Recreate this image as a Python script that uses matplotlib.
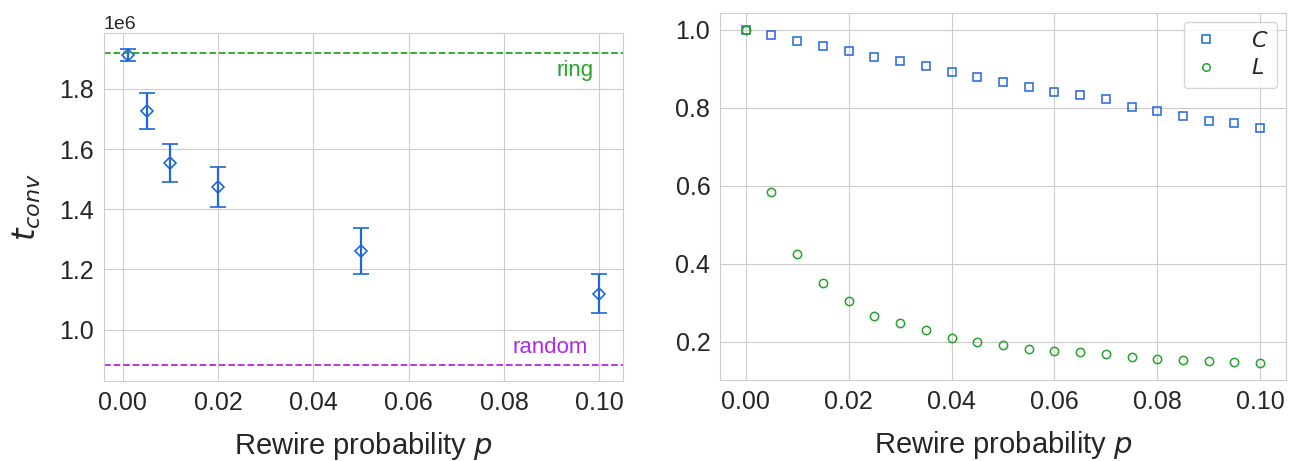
import matplotlib
matplotlib.use("Agg")
import matplotlib.pyplot as plt
import seaborn as sns

# Left panel: convergence time vs rewire probability
p_conv = [0.001, 0.005, 0.01, 0.02, 0.05, 0.1]
t_conv = [1.912e6, 1.727e6, 1.553e6, 1.474e6, 1.262e6, 1.120e6]
t_err = [0.021e6, 0.059e6, 0.063e6, 0.067e6, 0.077e6, 0.065e6]
t_ring = 1.918e6
t_random = 0.882e6

# Right panel: normalised clustering and path length
p_sw = [0.0, 0.005, 0.01, 0.015, 0.02, 0.025, 0.03, 0.035, 0.04, 0.045, 0.05,
        0.055, 0.06, 0.065, 0.07, 0.075, 0.08, 0.085, 0.09, 0.095, 0.1]
clustering = [1.0, 0.986, 0.970, 0.958, 0.946, 0.931, 0.921, 0.908, 0.892,
              0.878, 0.866, 0.853, 0.840, 0.832, 0.823, 0.801, 0.791, 0.778,
              0.766, 0.761, 0.747]
path_length = [1.0, 0.585, 0.424, 0.352, 0.306, 0.266, 0.248, 0.231, 0.211,
               0.199, 0.192, 0.182, 0.177, 0.173, 0.169, 0.161, 0.157, 0.153,
               0.150, 0.148, 0.145]

BLUE = "#1f66d8"
GREEN = "#26a32c"
PURPLE = "#b02ae0"

sns.set_style("whitegrid")
plt.rcParams["font.family"] = ["Liberation Sans", "DejaVu Sans"]
plt.rcParams["mathtext.fontset"] = "dejavusans"

fig = plt.figure(figsize=(12.98, 4.61), dpi=100)
ax1 = fig.add_axes([0.0801, 0.1735, 0.3998, 0.755])
ax2 = fig.add_axes([0.5547, 0.1757, 0.436, 0.796])

# Left panel
ax1.errorbar(p_conv, t_conv, yerr=t_err, fmt="D", color=BLUE, mfc="none",
             ms=6, mew=1.2, capsize=6, elinewidth=1.6, capthick=1.6)
ax1.axhline(t_ring, color=GREEN, ls="--", lw=1.3)
ax1.axhline(t_random, color=PURPLE, ls="--", lw=1.3)
ax1.text(0.0987, 1.86e6, "ring", color=GREEN, ha="right", va="center",
         fontsize=16)
ax1.text(0.0977, 0.94e6, "random", color=PURPLE, ha="right", va="center",
         fontsize=16)
ax1.set_xticks([0.0, 0.02, 0.04, 0.06, 0.08, 0.10])
ax1.set_xlabel("Rewire probability $p$", fontsize=21, labelpad=11)
ax1.set_ylabel("$t_{conv}$", fontsize=23)
ax1.yaxis.set_label_coords(-0.118, 0.5)
ax1.tick_params(labelsize=18)
ax1.yaxis.get_offset_text().set_fontsize(14)

# Right panel
ax2.plot(p_sw, clustering, "s", color=BLUE, mfc="none", ms=6, mew=1.1,
         label="$C$")
ax2.plot(p_sw, path_length, "o", color=GREEN, mfc="none", ms=6, mew=1.1,
         label="$L$")
ax2.set_xticks([0.0, 0.02, 0.04, 0.06, 0.08, 0.10])
ax2.set_yticks([0.2, 0.4, 0.6, 0.8, 1.0])
ax2.set_xlabel("Rewire probability $p$", fontsize=21, labelpad=11)
ax2.tick_params(labelsize=18)
ax2.legend(loc="upper right", fontsize=16, markerscale=0.9,
           labelspacing=0.3, handlelength=1.2, handletextpad=1.4,
           borderaxespad=0.4, borderpad=0.4)

fig.savefig("out.png", dpi=100)
